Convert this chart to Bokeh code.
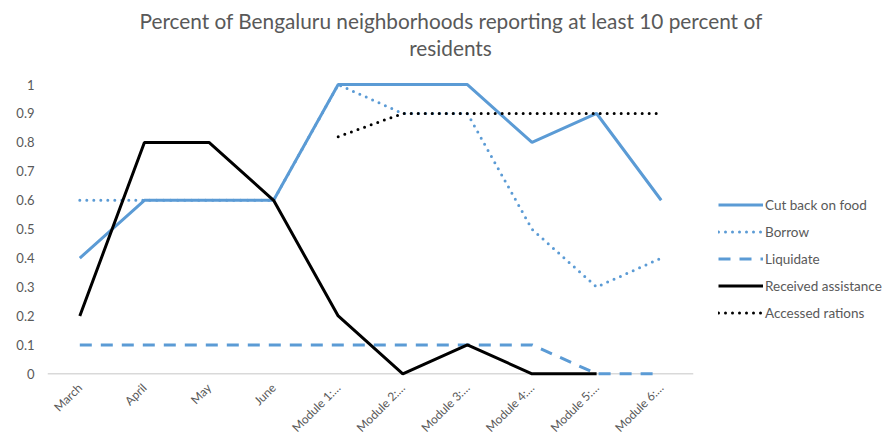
import math
from bokeh.plotting import figure
from bokeh.models import FactorRange, Range1d, Legend, LegendItem, Span, FixedTicker, Label
from bokeh.embed import file_html
from bokeh.resources import INLINE

nan = float("nan")

categories = ["March", "April", "May", "June", "Module 1:…", "Module 2:…",
              "Module 3:…", "Module 4:…", "Module 5:…", "Module 6:…"]
cut_back = [0.4, 0.6, 0.6, 0.6, 1.0, 1.0, 1.0, 0.8, 0.9, 0.6]
borrow = [0.6, 0.6, 0.6, 0.6, 1.0, 0.9, 0.9, 0.5, 0.3, 0.4]
liquidate = [0.1, 0.1, 0.1, 0.1, 0.1, 0.1, 0.1, 0.1, 0.0, 0.0]
received = [0.2, 0.8, 0.8, 0.6, 0.2, 0.0, 0.1, 0.0, 0.0, nan]
rations = [nan, nan, nan, nan, 0.82, 0.9, 0.9, 0.9, 0.9, 0.9]
y_ticks = [0, 0.1, 0.2, 0.3, 0.4, 0.5, 0.6, 0.7, 0.8, 0.9, 1]
y_tick_labels = ["0", "0.1", "0.2", "0.3", "0.4", "0.5", "0.6", "0.7", "0.8", "0.9", "1"]
title_line1 = "Percent of Bengaluru neighborhoods reporting at least 10 percent of"
title_line2 = "residents"

FONT = "Lato"
GRAY = "#595959"
BLUE = "#5b9bd5"

FRAME_H = 350
p = figure(x_range=FactorRange(*categories), y_range=Range1d(-0.03, 1.18),
           frame_width=646, frame_height=FRAME_H, output_backend="svg", toolbar_location=None,
           min_border_left=47, min_border_right=196, min_border_top=32, min_border_bottom=56)

p.title.text = title_line1
p.title.align = "left"
p.title.offset = 92
p.title.text_font = FONT
p.title.text_font_size = "20.8px"
p.title.text_font_style = "normal"
p.title.text_color = GRAY
p.title.standoff = 0

p.add_layout(Label(x=403, y=FRAME_H - 15, x_units="screen", y_units="screen",
                   text=title_line2, text_align="center", text_baseline="middle",
                   text_font=FONT, text_font_size="20.8px", text_color=GRAY))

p.xgrid.visible = False
p.ygrid.visible = False
p.outline_line_color = None
p.border_fill_color = "white"

p.add_layout(Span(location=0, dimension="width", line_color="#d9d9d9", line_width=1.5, level="underlay"))

r1 = p.line(categories, cut_back, line_color=BLUE, line_width=3)
r2 = p.line(categories, borrow, line_color=BLUE, line_width=3, line_dash="0 7", line_cap="round")
r3 = p.line(categories, liquidate, line_color=BLUE, line_width=3, line_dash="12 9")
r4 = p.line(categories, received, line_color="black", line_width=3)
r5 = p.line(categories, rations, line_color="black", line_width=3, line_dash="0 7", line_cap="round")

xa = p.xaxis[0]
xa.axis_line_color = None
xa.major_tick_line_color = None
xa.minor_tick_line_color = None
xa.major_tick_out = 0
xa.major_tick_in = 0
xa.major_label_orientation = math.pi / 4
xa.major_label_text_font = FONT
xa.major_label_text_font_size = "12px"
xa.major_label_text_color = GRAY
xa.major_label_standoff = 3

ya = p.yaxis[0]
ya.ticker = FixedTicker(ticks=y_ticks)
ya.major_label_overrides = {t: l for t, l in zip(y_ticks, y_tick_labels)}
ya.axis_line_color = None
ya.major_tick_line_color = None
ya.minor_tick_line_color = None
ya.major_tick_out = 0
ya.major_tick_in = 0
ya.major_label_text_font = FONT
ya.major_label_text_font_size = "13px"
ya.major_label_text_color = GRAY
ya.major_label_standoff = 13

legend = Legend(items=[
    LegendItem(label="Cut back on food", renderers=[r1]),
    LegendItem(label="Borrow", renderers=[r2]),
    LegendItem(label="Liquidate", renderers=[r3]),
    LegendItem(label="Received assistance", renderers=[r4]),
    LegendItem(label="Accessed rations", renderers=[r5]),
], location=(25, 60), glyph_width=45, glyph_height=19, label_height=19, spacing=8,
    padding=10, margin=0, label_standoff=2, border_line_color=None, background_fill_alpha=0,
    label_text_font=FONT, label_text_font_size="13.5px", label_text_color=GRAY)
p.add_layout(legend, "right")

open("out.html", "w").write(file_html(p, INLINE))
